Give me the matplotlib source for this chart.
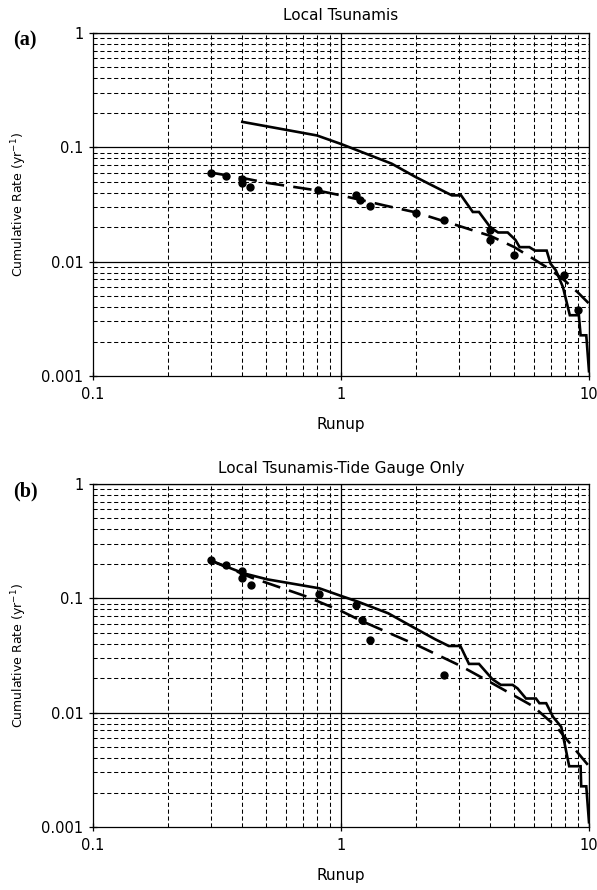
#!/usr/bin/env python3
"""Cumulative tsunami rate vs runup: (a) all local tsunamis, (b) tide gauge only.

Solid = empirical staircase, dashed = fitted curve, dots = observations.
"""
import matplotlib as mpl
import matplotlib.pyplot as plt
from matplotlib.ticker import FixedLocator, FixedFormatter, NullFormatter

# ---- panel (a): Local Tsunamis -------------------------------------------
A_SOLID_X = [0.4, 0.8, 1.0, 1.6, 2.0, 2.4, 2.8, 3.05, 3.4, 3.6, 4.0, 4.3,
             4.7, 5.05, 5.25, 5.75, 6.05, 6.75, 7.0, 7.35, 7.85, 8.37,
             9.1, 9.25, 9.75, 10.0]
A_SOLID_Y = [0.167, 0.127, 0.107, 0.072, 0.055, 0.045, 0.038, 0.038,
             0.0272, 0.0272, 0.020, 0.018, 0.018, 0.0155, 0.0134, 0.0134,
             0.0125, 0.0125, 0.0096, 0.0084, 0.006, 0.0034, 0.0034,
             0.00227, 0.00227, 0.0011]
A_FIT_X = [0.3, 0.4, 0.5, 0.8, 1.0, 1.5, 2.0, 3.0, 4.0, 5.0, 6.0, 7.0,
           8.0, 9.0, 10.0]
A_FIT_Y = [0.060, 0.054, 0.049, 0.042, 0.038, 0.031, 0.027, 0.0205,
           0.0168, 0.0134, 0.0105, 0.0085, 0.0068, 0.0054, 0.0043]
A_PTS_X = [0.3, 0.345, 0.4, 0.4, 0.43, 0.81, 1.15, 1.19, 1.31, 2.0, 2.6,
           4.0, 4.0, 5.0, 7.96, 9.0]
A_PTS_Y = [0.060, 0.056, 0.053, 0.049, 0.045, 0.042, 0.038, 0.0344,
           0.0305, 0.0267, 0.023, 0.019, 0.0154, 0.0114, 0.0076, 0.0038]

# ---- panel (b): Local Tsunamis-Tide Gauge Only ---------------------------
B_SOLID_X = [0.3, 0.405, 0.504, 0.818, 1.0, 1.17, 1.55, 1.99, 2.4, 2.72,
             3.03, 3.28, 3.6, 4.08, 4.41, 4.92, 5.15, 5.57, 6.11, 6.31,
             6.72, 7.16, 7.73, 8.32, 9.25, 9.3, 9.75, 10.0]
B_SOLID_Y = [0.213, 0.1655, 0.1466, 0.1224, 0.105, 0.0935, 0.074, 0.0547,
             0.0438, 0.0383, 0.0383, 0.0267, 0.0267, 0.0196, 0.0175,
             0.0175, 0.0163, 0.0133, 0.0133, 0.0121, 0.0121, 0.0092,
             0.0075, 0.0034, 0.0034, 0.00227, 0.00227, 0.0011]
B_FIT_X = [0.3, 0.435, 0.714, 1.0, 1.21, 2.06, 3.04, 4.03, 5.94, 7.35, 10.0]
B_FIT_Y = [0.213, 0.152, 0.105, 0.0776, 0.0634, 0.0383, 0.0256, 0.0183,
           0.0114, 0.0076, 0.0034]
B_PTS_X = [0.3, 0.343, 0.4, 0.4, 0.432, 0.817, 1.15, 1.21, 1.31, 2.6]
B_PTS_Y = [0.217, 0.196, 0.174, 0.150, 0.130, 0.1086, 0.087, 0.0647,
           0.0432, 0.0213]

X_TICKS = [0.1, 1, 10]
X_TICKLABELS = ["0.1", "1", "10"]
Y_TICKS = [0.001, 0.01, 0.1, 1]
Y_TICKLABELS = ["0.001", "0.01", "0.1", "1"]
MINOR_X = [m * d for d in (0.1, 1) for m in range(2, 10)]
MINOR_Y = [m * d for d in (0.001, 0.01, 0.1) for m in range(2, 10)]

PANELS = [
    ("(a)", "Local Tsunamis", A_SOLID_X, A_SOLID_Y, A_FIT_X, A_FIT_Y,
     A_PTS_X, A_PTS_Y),
    ("(b)", "Local Tsunamis-Tide Gauge Only", B_SOLID_X, B_SOLID_Y,
     B_FIT_X, B_FIT_Y, B_PTS_X, B_PTS_Y),
]

W, H = 597, 890


def _draw(ax, tag, title, sx, sy, fx, fy, px, py, title_pad):
    ax.set_xscale("log")
    ax.set_yscale("log")
    ax.set_xlim(0.1, 10)
    ax.set_ylim(0.001, 1)

    # grid: solid at decades, short dashes in between
    for v in MINOR_X:
        ax.axvline(v, color="black", lw=0.75, ls=(0, (4, 2.6)), zorder=0)
    for v in MINOR_Y:
        ax.axhline(v, color="black", lw=0.75, ls=(0, (4, 2.6)), zorder=0)
    for v in X_TICKS[1:]:
        ax.axvline(v, color="black", lw=0.9, zorder=0)
    for v in Y_TICKS[1:]:
        ax.axhline(v, color="black", lw=0.9, zorder=0)

    ax.plot(sx, sy, color="black", lw=1.9, solid_joinstyle="miter", zorder=3)
    ax.plot(fx, fy, color="black", lw=1.9, dashes=(7, 3.5), zorder=3)
    ax.plot(px, py, "o", color="black", ms=5, zorder=4)

    ax.xaxis.set_major_locator(FixedLocator(X_TICKS))
    ax.xaxis.set_major_formatter(FixedFormatter(X_TICKLABELS))
    ax.yaxis.set_major_locator(FixedLocator(Y_TICKS))
    ax.yaxis.set_major_formatter(FixedFormatter(Y_TICKLABELS))
    ax.xaxis.set_minor_formatter(NullFormatter())
    ax.yaxis.set_minor_formatter(NullFormatter())
    ax.tick_params(which="major", direction="inout", length=6, width=0.9,
                   labelsize=10.5)
    ax.tick_params(axis="x", which="major", pad=5)
    ax.tick_params(axis="y", which="major", pad=4)
    ax.tick_params(which="minor", length=0)
    for s in ax.spines.values():
        s.set_linewidth(0.9)

    ax.set_title(title, fontsize=11, pad=title_pad)
    ax.set_xlabel("Runup", fontsize=11, labelpad=11)
    ax.set_ylabel("Cumulative Rate (yr$^{-1}$)", fontsize=9, labelpad=9)
    # panel tag sits left of the y tick labels, level with the top edge
    ax.text(-0.137, 0.978, tag, transform=ax.transAxes, ha="center",
            va="center", fontsize=14.5, fontweight="bold",
            family="Liberation Serif")


def main():
    mpl.rcParams["font.family"] = "DejaVu Sans"
    mpl.rcParams["mathtext.fontset"] = "dejavusans"
    fig = plt.figure(figsize=(W / 100, H / 100), dpi=100)
    left, right = 93, 589
    tops = [33, 484]
    h = 343
    pads = [9, 8]
    for (tag, title, sx, sy, fx, fy, px, py), top, pad in zip(PANELS, tops, pads):
        ax = fig.add_axes([left / W, (H - top - h) / H,
                           (right - left) / W, h / H])
        _draw(ax, tag, title, sx, sy, fx, fy, px, py, pad)
    fig.savefig("out.png", dpi=100)
    plt.close(fig)


if __name__ == "__main__":
    main()
